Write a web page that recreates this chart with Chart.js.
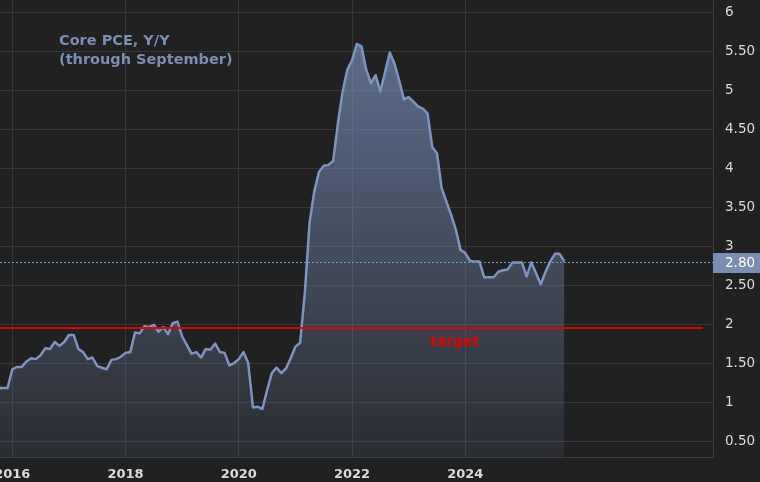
<!DOCTYPE html>
<html>
<head>
<meta charset="utf-8">
<script src="https://cdn.jsdelivr.net/npm/chart.js@4.4.1/dist/chart.umd.min.js"></script>
<style>
  html, body { margin: 0; padding: 0; background: #212121; }
  canvas { display: block; }
</style>
</head>
<body>
<canvas id="c" width="760" height="482"></canvas>
<script>
// ---- Data (monthly Core PCE, Y/Y %) ----
const categories = [
  "2015-09","2015-10","2015-11","2015-12",
  "2016-01","2016-02","2016-03","2016-04","2016-05","2016-06","2016-07","2016-08","2016-09","2016-10","2016-11","2016-12",
  "2017-01","2017-02","2017-03","2017-04","2017-05","2017-06","2017-07","2017-08","2017-09","2017-10","2017-11","2017-12",
  "2018-01","2018-02","2018-03","2018-04","2018-05","2018-06","2018-07","2018-08","2018-09","2018-10","2018-11","2018-12",
  "2019-01","2019-02","2019-03","2019-04","2019-05","2019-06","2019-07","2019-08","2019-09","2019-10","2019-11","2019-12",
  "2020-01","2020-02","2020-03","2020-04","2020-05","2020-06","2020-07","2020-08","2020-09","2020-10","2020-11","2020-12",
  "2021-01","2021-02","2021-03","2021-04","2021-05","2021-06","2021-07","2021-08","2021-09","2021-10","2021-11","2021-12",
  "2022-01","2022-02","2022-03","2022-04","2022-05","2022-06","2022-07","2022-08","2022-09","2022-10","2022-11","2022-12",
  "2023-01","2023-02","2023-03","2023-04","2023-05","2023-06","2023-07","2023-08","2023-09","2023-10","2023-11","2023-12",
  "2024-01","2024-02","2024-03","2024-04","2024-05","2024-06","2024-07","2024-08","2024-09","2024-10","2024-11","2024-12",
  "2025-01","2025-02","2025-03","2025-04","2025-05","2025-06","2025-07","2025-08","2025-09"
];
const corePceYoY = [
  1.18, 1.18, 1.18, 1.42,
  1.45, 1.45, 1.52, 1.56, 1.55, 1.60, 1.69, 1.68, 1.77, 1.72, 1.77, 1.86,
  1.86, 1.68, 1.64, 1.55, 1.57, 1.46, 1.44, 1.42, 1.54, 1.55, 1.58, 1.63,
  1.64, 1.89, 1.88, 1.97, 1.96, 1.99, 1.90, 1.96, 1.87, 2.01, 2.03, 1.84,
  1.73, 1.62, 1.64, 1.57, 1.68, 1.67, 1.75, 1.64, 1.63, 1.47, 1.50, 1.55,
  1.64, 1.50, 0.93, 0.94, 0.91, 1.15, 1.37, 1.44, 1.37, 1.43, 1.56, 1.71,
  1.76, 2.40, 3.30, 3.70, 3.95, 4.03, 4.04, 4.09, 4.57, 4.98, 5.26, 5.38,
  5.59, 5.56, 5.26, 5.09, 5.19, 4.98, 5.23, 5.48, 5.34, 5.12, 4.88, 4.91,
  4.85, 4.79, 4.76, 4.70, 4.27, 4.19, 3.74, 3.57, 3.40, 3.21, 2.95, 2.91,
  2.81, 2.80, 2.80, 2.60, 2.60, 2.60, 2.67, 2.69, 2.70, 2.79, 2.79, 2.79,
  2.61, 2.79, 2.65, 2.51, 2.67, 2.80, 2.90, 2.90, 2.80
];
const targetRate = 1.95;
const xTickYears = [2016, 2018, 2020, 2022, 2024];
const yTickValues = [0.5, 1, 1.5, 2, 2.5, 3, 3.5, 4, 4.5, 5, 5.5, 6];
const yTickLabels = ["0.50", "1", "1.50", "2", "2.50", "3", "3.50", "4", "4.50", "5", "5.50", "6"];
const titleLines = ["Core PCE, Y/Y", "(through September)"];
const targetLabel = "target";

// month-end dating: value for month m of year Y plotted at Y + m/12
const points = categories.map((c, i) => {
  const [yr, mo] = c.split("-").map(Number);
  return { x: yr + mo / 12, y: corePceYoY[i] };
});
const lastValue = corePceYoY[corePceYoY.length - 1];

const LINE = "#7c94c2";
const GRID = "#363636";
const AXIS_BORDER = "#383b48";
const TICK_COLOR = "#dadada";

const overlay = {
  id: "overlay",
  afterDatasetsDraw(chart) {
    const { ctx, chartArea: a, scales: { y } } = chart;
    ctx.save();
    // dotted last-value line
    const ly = Math.round(y.getPixelForValue(lastValue)) + 0.5;
    ctx.strokeStyle = "#7395d0";
    ctx.lineWidth = 1;
    ctx.setLineDash([2, 2]);
    ctx.beginPath(); ctx.moveTo(a.left, ly); ctx.lineTo(a.right, ly); ctx.stroke();
    ctx.setLineDash([]);
    // target line
    const ty = y.getPixelForValue(targetRate);
    ctx.strokeStyle = "#e00000";
    ctx.lineWidth = 2;
    ctx.beginPath(); ctx.moveTo(a.left, ty); ctx.lineTo(a.right - 10, ty); ctx.stroke();
    ctx.fillStyle = "#e00000";
    ctx.font = 'bold 14px "DejaVu Sans"';
    ctx.textAlign = "left";
    ctx.textBaseline = "middle";
    ctx.fillText(targetLabel, 430, ty + 14);
    ctx.restore();
  },
  afterDraw(chart) {
    const { ctx, chartArea: a, scales: { y } } = chart;
    ctx.save();
    // last value badge on the axis
    const ly = y.getPixelForValue(lastValue);
    ctx.fillStyle = "#7b8db2";
    ctx.fillRect(a.right, Math.round(ly) - 9, chart.width - a.right, 20);
    ctx.fillStyle = "#ffffff";
    ctx.font = '13.5px "DejaVu Sans"';
    ctx.textAlign = "left";
    ctx.textBaseline = "middle";
    ctx.fillText(lastValue.toFixed(2), a.right + 12, Math.round(ly) + 1);
    // title
    ctx.fillStyle = "#7a8db6";
    ctx.font = 'bold 14.5px "DejaVu Sans"';
    ctx.fillText(titleLines[0], 59, 41);
    ctx.fillText(titleLines[1], 59, 60);
    ctx.restore();
  }
};

new Chart(document.getElementById("c"), {
  type: "line",
  data: {
    datasets: [{
      data: points,
      borderColor: LINE,
      borderWidth: 2.5,
      borderJoinStyle: "round",
      pointRadius: 0,
      tension: 0,
      fill: "start",
      backgroundColor(context) {
        const chart = context.chart;
        const a = chart.chartArea;
        if (!a) return "rgba(124,148,194,0.4)";
        const g = chart.ctx.createLinearGradient(0, a.top, 0, a.bottom);
        g.addColorStop(0, "rgba(124,148,194,0.72)");
        g.addColorStop(1, "rgba(124,148,194,0.10)");
        return g;
      }
    }]
  },
  options: {
    responsive: false,
    animation: false,
    devicePixelRatio: 1,
    layout: { padding: 0 },
    plugins: { legend: { display: false }, tooltip: { enabled: false } },
    scales: {
      x: {
        type: "linear",
        position: "bottom",
        min: 2015.783,
        max: 2028.375,
        afterBuildTicks(scale) { scale.ticks = xTickYears.map(v => ({ value: v })); },
        afterFit(scale) { scale.height = 25; scale.paddingLeft = 0; scale.paddingRight = 0; },
        ticks: {
          padding: 10,
          color: TICK_COLOR,
          font: { family: "DejaVu Sans", size: 13, weight: "bold" },
          maxRotation: 0,
          autoSkip: false,
          callback: v => String(v)
        },
        grid: { color: GRID, drawTicks: false },
        border: { display: true, color: AXIS_BORDER }
      },
      y: {
        position: "right",
        min: 0.295,
        max: 6.154,
        afterBuildTicks(scale) { scale.ticks = yTickValues.map(v => ({ value: v })); },
        afterFit(scale) { scale.width = 47; scale.paddingTop = 0; scale.paddingBottom = 0; },
        ticks: {
          padding: 12,
          crossAlign: "near",
          color: TICK_COLOR,
          font: { family: "DejaVu Sans", size: 13.5 },
          autoSkip: false,
          callback: v => yTickLabels[yTickValues.indexOf(v)]
        },
        grid: { color: GRID, drawTicks: false },
        border: { display: true, color: AXIS_BORDER }
      }
    }
  },
  plugins: [overlay]
});
</script>
</body>
</html>
